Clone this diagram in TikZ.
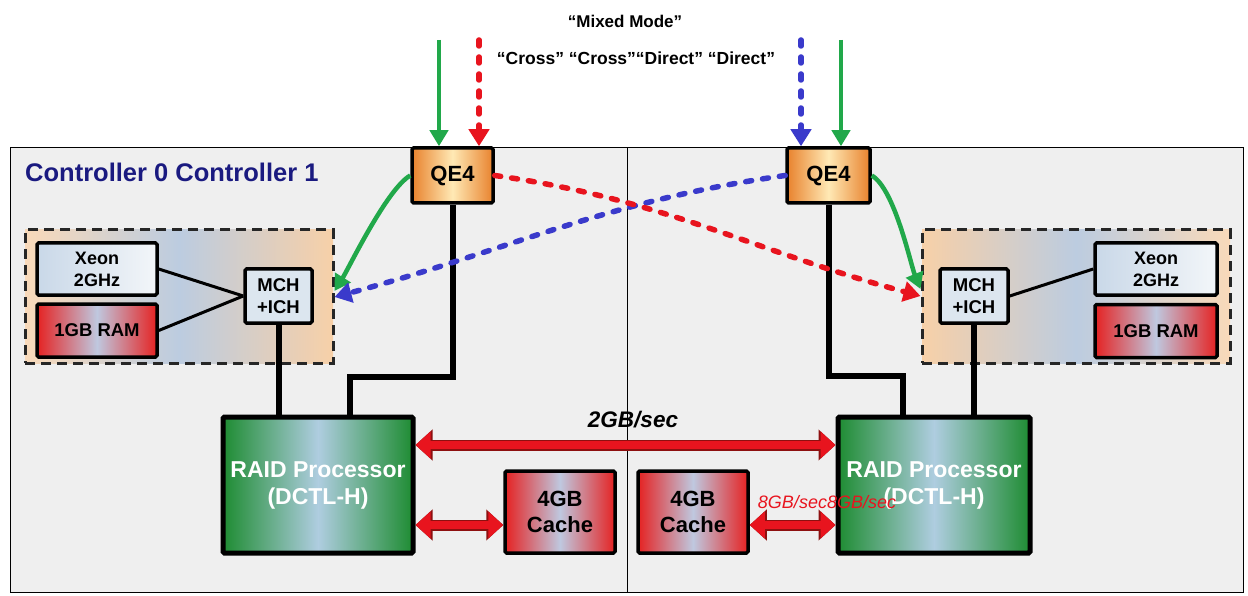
\documentclass[tikz,border=0pt]{standalone}
\usepackage{fontspec}
\setmainfont{Liberation Sans}
\usetikzlibrary{arrows.meta,calc}
\definecolor{panelgray}{HTML}{EFEFEF}
\definecolor{raidg}{HTML}{1E8C32}
\definecolor{raidb}{HTML}{AFCDE0}
\definecolor{ramr}{HTML}{E52222}
\definecolor{ramb}{HTML}{BFC8DF}
\definecolor{xeonl}{HTML}{C9D8E8}
\definecolor{xeonr}{HTML}{F3F6F9}
\definecolor{mchc}{HTML}{DCE6EF}
\definecolor{qeo}{HTML}{E8822D}
\definecolor{qey}{HTML}{FFE9B5}
\definecolor{dasho}{HTML}{F7D0A8}
\definecolor{dashb}{HTML}{BCCCE0}
\definecolor{agreen}{HTML}{21A84A}
\definecolor{ared}{HTML}{E8141E}
\definecolor{adarkred}{HTML}{8E1010}
\definecolor{ablue}{HTML}{3A3ACB}
\definecolor{navy}{HTML}{1A1A80}
\tikzset{
  box/.style={draw=black, line width=3.5pt, rounded corners=1.5pt, align=center, inner sep=0pt},
  raidbox/.style={box, line width=5pt, left color=raidg, right color=raidg, middle color=raidb,
    text=white, minimum width=190pt, minimum height=136pt,
    font=\fontsize{23}{27}\selectfont\bfseries},
  cachebox/.style={box, left color=ramr, right color=ramr, middle color=ramb,
    minimum width=110pt, minimum height=82pt, font=\fontsize{22}{26}\selectfont\bfseries},
  rambox/.style={box, left color=ramr, right color=ramr, middle color=ramb,
    minimum width=120pt, minimum height=53pt, font=\fontsize{18.5}{21}\selectfont\bfseries},
  xeonbox/.style={box, left color=xeonl, right color=xeonr,
    minimum width=120pt, minimum height=52pt, font=\fontsize{18}{22}\selectfont\bfseries},
  mchbox/.style={box, fill=mchc, minimum width=67pt, minimum height=54pt,
    font=\fontsize{18.5}{22}\selectfont\bfseries},
  qebox/.style={box, left color=qeo, right color=qeo, middle color=qey,
    minimum width=81pt, minimum height=55pt, font=\fontsize{22}{26}\selectfont\bfseries},
  dashbox/.style={draw=black!85, line width=3pt, dash pattern=on 10pt off 6pt,
    minimum width=308pt, minimum height=133pt, inner sep=0pt},
  panel/.style={draw=black, line width=1pt, fill=panelgray},
  bus/.style={line width=6pt, black},
  thinlink/.style={line width=3pt, black},
  solidarrow/.style={line width=4.5pt, -{Triangle[width=18pt,length=16pt]}},
  dotarrow/.style={line width=5.5pt, line cap=round, dash pattern=on 6pt off 11pt,
    -{Triangle[width=20pt,length=17pt]}},
  bigarrow/.style={line width=8pt, ared,
    {Triangle[width=26pt,length=15pt]}-{Triangle[width=26pt,length=15pt]},
    preaction={draw=adarkred, line width=11pt,
      {Triangle[width=30pt,length=17pt]}-{Triangle[width=30pt,length=17pt]}}},
}
\begin{document}
\begin{tikzpicture}[x=1pt,y=-1pt]
\useasboundingbox (0,0) rectangle (1248,596);
\fill[white] (0,0) rectangle (1248,596);
% panels
\draw[panel] (10,148) rectangle (627,592);
\draw[panel] (627,148) rectangle (1243,592);
% dashed groups
\node[dashbox, left color=dasho!80!white, right color=dasho, middle color=dashb] (dashL) at (179,296.5) {};
\node[dashbox, left color=dasho, right color=dasho!80!white, middle color=dashb] (dashR) at (1076,296.5) {};
% title
\node[anchor=west, text=navy, font=\fontsize{25.5}{30}\selectfont\bfseries, inner sep=0pt] (title) at (25,172) {Controller 0 Controller 1};
% top texts
\node[font=\fontsize{17}{20}\selectfont\bfseries, inner sep=0pt] (mixed) at (625,21) {“Mixed Mode”};
\node[font=\fontsize{17.5}{20}\selectfont\bfseries, inner sep=0pt] (modes) at (636,58) {“Cross” “Cross”“Direct” “Direct”};
% boxes left
\node[xeonbox] (xeonL) at (97,269) {Xeon\\2GHz};
\node[rambox] (ramL) at (97,330.5) {1GB RAM};
\node[mchbox] (mchL) at (278.5,296) {MCH\\+ICH};
\node[qebox] (qeL) at (452.5,175.5) {QE4};
\node[raidbox] (raidL) at (318,485) {RAID Processor\\(DCTL-H)};
\node[cachebox] (cacheL) at (560,512) {4GB\\Cache};
% boxes right
\node[xeonbox, minimum width=122pt] (xeonR) at (1156,269) {Xeon\\2GHz};
\node[rambox, minimum width=122pt] (ramR) at (1156,331) {1GB RAM};
\node[mchbox, minimum width=68pt] (mchR) at (974,296) {MCH\\+ICH};
\node[qebox, minimum width=83pt] (qeR) at (828.5,175.5) {QE4};
\node[raidbox, minimum width=192pt] (raidR) at (934,485) {RAID Processor\\(DCTL-H)};
\node[cachebox] (cacheR) at (693,512) {4GB\\Cache};
% thin links
\draw[thinlink] (xeonL.east) -- (mchL.west);
\draw[thinlink] (ramL.east) -- (mchL.west);
\draw[thinlink] (mchR.east) -- (xeonR.west);
% buses
\coordinate (jL) at (350,377);
\coordinate (jR) at (903,376);
\draw[bus] (mchL.south) -- (mchL.south |- raidL.north);
\draw[bus] (qeL.south) |- (jL) -- (jL |- raidL.north);
\draw[bus] (mchR.south) -- (mchR.south |- raidR.north);
\draw[bus] (qeR.south) |- (jR) -- (jR |- raidR.north);
% big red arrows
\draw[bigarrow] ([yshift=40pt]raidL.east) -- ([yshift=40pt]raidR.west);
\draw[bigarrow] ([yshift=-40pt]raidL.east) -- ([yshift=-13pt]cacheL.west);
\draw[bigarrow] ([yshift=-13pt]cacheR.east) -- ([yshift=-40pt]raidR.west);
\node[font=\fontsize{22.5}{26}\selectfont\bfseries\itshape, inner sep=0pt] (gb2) at (633,420) {2GB/sec};
\node[font=\fontsize{18}{22}\selectfont\itshape, text=ared, inner sep=0pt] (gb8) at (827,502) {8GB/sec8GB/sec};
% top input arrows
\coordinate (tgL) at (439,40);
\coordinate (trL) at (479,40);
\coordinate (tbR) at (801,40);
\coordinate (tgR) at (841,40);
\draw[solidarrow, agreen] (tgL) -- (tgL |- qeL.north);
\draw[dotarrow, ared] (trL) -- (trL |- qeL.north);
\draw[dotarrow, ablue] (tbR) -- (tbR |- qeR.north);
\draw[solidarrow, agreen] (tgR) -- (tgR |- qeR.north);
% cross/direct arrows
\coordinate (inL1) at (334,291);
\coordinate (inL2) at (334,297);
\coordinate (inR1) at (921,289);
\coordinate (inR2) at (921,296);
\draw[solidarrow, agreen] (qeL.west) to[out=210, in=58, looseness=0.5] (dashL.east |- inL1);
\draw[dotarrow, ablue] (qeR.west) to[out=188, in=15] (dashL.east |- inL2);
\draw[dotarrow, ared] (qeL.east) to[out=-8, in=165] (dashR.west |- inR2);
\draw[solidarrow, agreen] (qeR.east) to[out=-30, in=112, looseness=0.55] (dashR.west |- inR1);
\end{tikzpicture}
\end{document}
